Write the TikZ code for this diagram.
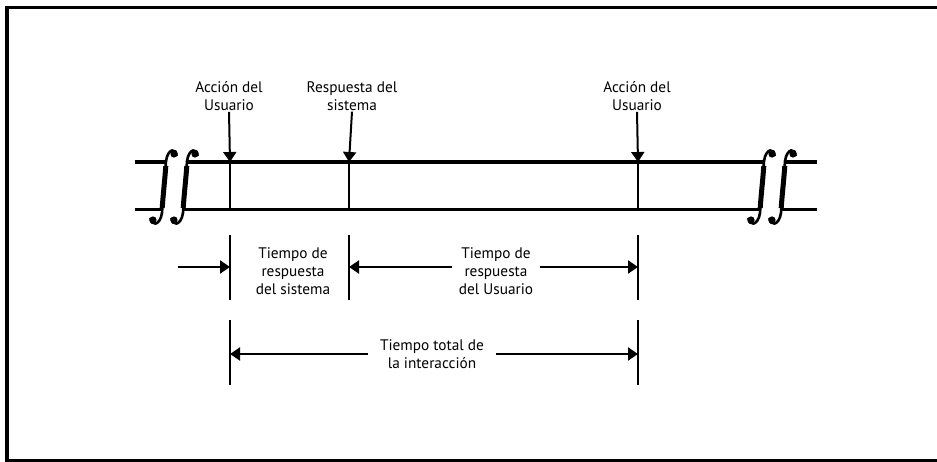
\documentclass[tikz,border=0pt]{standalone}
\usepackage{fontspec}
\setmainfont{PT Sans}
\usetikzlibrary{arrows.meta, positioning}

\tikzset{
    intsign/.pic={
        \fill (10,-33) circle (3.6) (-11,33) circle (3.6);
        \draw[line width=2.6pt] (12.5,-31) .. controls (13,-39) and (4,-39.5) .. (2,-26)
            .. controls (1,-10) and (-1,10) .. (-2,26)
            .. controls (-4,39.5) and (-13.5,39) .. (-13.5,31);
        \draw[line width=5pt] (1.8,-21) .. controls (0.8,-7) and (-0.8,7) .. (-1.8,21);
    }
}

\begin{document}
\begin{tikzpicture}[x=1pt, y=-1pt, >={Triangle[length=10pt, width=13pt]},
    lbl/.style={align=center, font=\fontsize{15.3}{18}\selectfont, inner sep=1pt},
    tick/.style={line width=2pt},
    dim/.style={line width=2pt}]
    \useasboundingbox (0,0) rectangle (937,462);
    % Frame
    \draw[line width=3.5pt] (7,7.5) rectangle (960,460.5);

    % Time line, broken at both ends
    \draw[line width=4.5pt] (135,162) -- (166,162) (186,162) -- (764,162) (785,162) -- (817,162);
    \draw[line width=3pt] (135,210) -- (162,210) (182,210) -- (760,210) (781,210) -- (817,210);
    \pic (brkA) at (164,187) {intsign};
    \pic (brkB) at (185,187) {intsign};
    \pic (brkC) at (762,187) {intsign};
    \pic (brkD) at (783,187) {intsign};

    % Events on the time line
    \coordinate (u1) at (230,162);
    \coordinate (s1) at (349,162);
    \coordinate (u2) at (638,162);
    \node[lbl] (lu1) at (229,96) {Acción del\\Usuario};
    \node[lbl] (ls1) at (352,96) {Respuesta del\\sistema};
    \node[lbl] (lu2) at (637,96) {Acción del\\Usuario};
    \foreach \n/\l in {u1/lu1, s1/ls1, u2/lu2} {
        \draw[->, dim] (\l.south) -- (\n);
        \draw[tick] (\n) -- ++(0,48);
    }

    % Response times
    \foreach \n/\x in {ma/230, mb/349, mc/638} {
        \coordinate (\n) at (\x,235);
        \draw[tick] (\n) -- ++(0,65);
    }
    \coordinate (st) at (178,267);
    \draw[->, dim] (st) -- (ma |- st);
    \node[lbl] (tsis) at (293,271.5) {Tiempo de\\respuesta\\del sistema};
    \node[lbl, inner sep=7pt] (tusu) at (496,271.5) {Tiempo de\\respuesta\\del Usuario};
    \draw[->, dim] (tusu.west |- st) -- (mb |- st);
    \draw[->, dim] (tusu.east |- st) -- (mc |- st);

    % Total interaction time
    \foreach \n/\x in {na/230, nc/638} {
        \coordinate (\n) at (\x,320);
        \draw[tick] (\n) -- ++(0,65);
    }
    \node[lbl, inner sep=12pt] (ttot) at (432,354) {Tiempo total de\\la interacción};
    \draw[->, dim] (ttot.west) -- (na |- ttot);
    \draw[->, dim] (ttot.east) -- (nc |- ttot);
\end{tikzpicture}
\end{document}
